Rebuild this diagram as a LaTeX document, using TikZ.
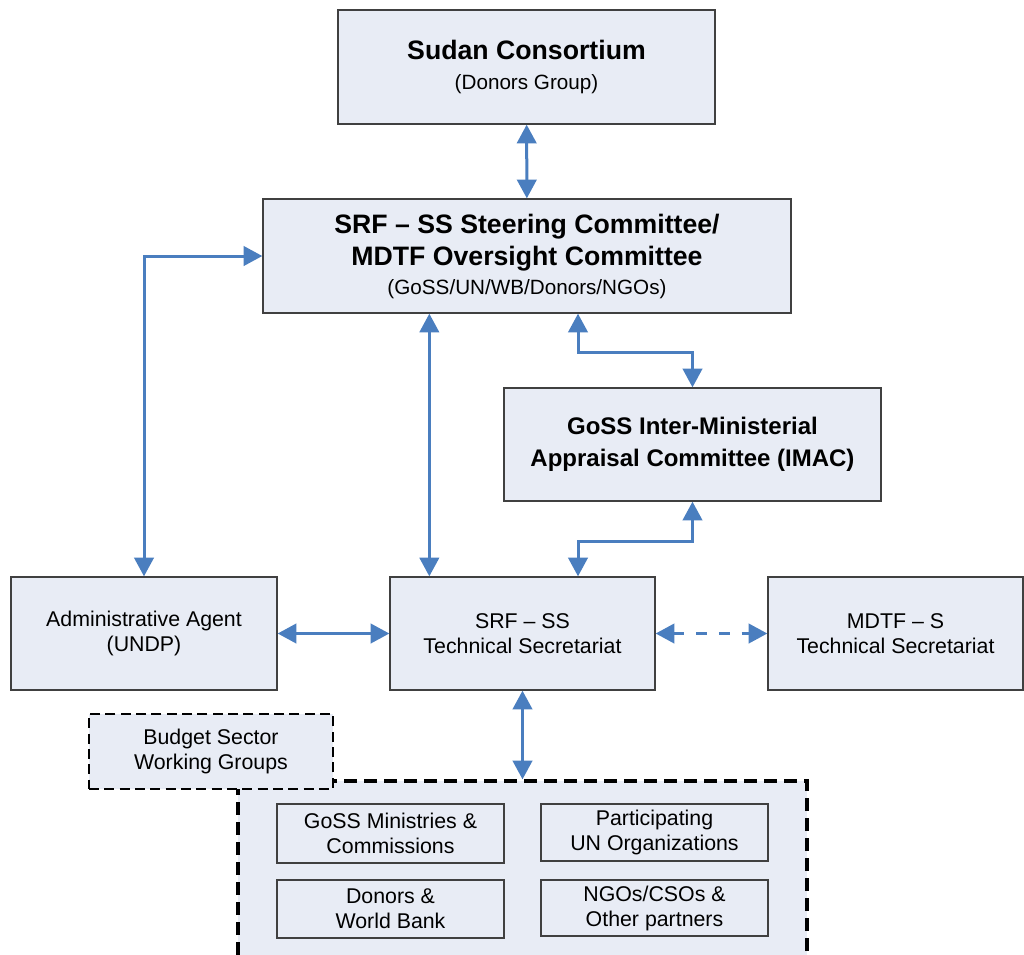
\documentclass[tikz,border=0pt]{standalone}
\usepackage{fontspec}
\setmainfont{Liberation Sans}
\usetikzlibrary{arrows.meta}

\definecolor{boxfill}{HTML}{E8ECF5}
\definecolor{boxline}{HTML}{404040}
\definecolor{linkblue}{HTML}{4A7EBF}

\newcommand{\subline}{\fontsize{15.5}{20}\selectfont\mdseries}

\begin{document}
\begin{tikzpicture}[x=0.75pt, y=-0.75pt,
    box/.style={draw=boxline, line width=1pt, fill=boxfill, align=center,
      inner sep=0pt, font=\fontsize{16}{18.75}\selectfont},
    titlebox/.style={box, font=\fontsize{20}{24}\selectfont\bfseries},
    dashbox/.style={box, draw=black, line width=1.8pt, dash pattern=on 7.5pt off 4pt},
    link/.style={draw=linkblue, line width=2.25pt,
      {Triangle[length=14pt,width=14.5pt]}-{Triangle[length=14pt,width=14.5pt]}},
    dashlink/.style={link, dash pattern=on 8pt off 9pt}]
  \useasboundingbox (0,0) rectangle (1024,954);

  % upper part
  \node[titlebox, minimum width=282.75pt, minimum height=85.5pt] (sudan) at (526.5, 67)
    {Sudan Consortium\\[-1.5pt]{\subline (Donors Group)}};
  \node[titlebox, minimum width=396pt, minimum height=85.5pt] (steer) at (527, 256)
    {SRF – SS Steering Committee/\\MDTF Oversight Committee\\[-2.25pt]{\subline (GoSS/UN/WB/Donors/NGOs)}};
  \node[titlebox, minimum width=282.75pt, minimum height=84.75pt,
    font=\fontsize{18}{24}\selectfont\bfseries] (imac) at (692.5, 444.5)
    {GoSS Inter-Ministerial\\Appraisal Committee (IMAC)};

  % middle row
  \node[box, minimum width=199.5pt, minimum height=84.75pt] (admin) at (144, 633.5)
    {Administrative Agent\\(UNDP)};
  \node[box, minimum width=198.75pt, minimum height=84.75pt] (ts) at (522.5, 633.5)
    {SRF – SS\\Technical Secretariat};
  \node[box, minimum width=191.25pt, minimum height=84.75pt] (mdtf) at (895.5, 633.5)
    {MDTF – S\\Technical Secretariat};

  % lower group
  \node[dashbox, line width=2.5pt, dash pattern=on 10pt off 5pt,
    minimum width=426.75pt, minimum height=135.75pt] (group) at (522.5, 871.5) {};
  \node[dashbox, minimum width=183pt, minimum height=56.25pt] (budget) at (211, 751.5)
    {Budget Sector\\Working Groups};
  \node[box, minimum width=170.25pt, minimum height=44.25pt] (goss) at (390.5, 833.5)
    {GoSS Ministries \&\\Commissions};
  \node[box, minimum width=170.25pt, minimum height=42.75pt] (unorg) at (654.5, 832.5)
    {Participating\\UN Organizations};
  \node[box, minimum width=170.25pt, minimum height=43.5pt] (donors) at (390.5, 909)
    {Donors \&\\World Bank};
  \node[box, minimum width=170.25pt, minimum height=42pt] (ngos) at (654.5, 908)
    {NGOs/CSOs \&\\Other partners};

  % connectors
  \coordinate (jog) at (578, 0);
  \draw[link] (sudan) -- (steer);
  \draw[link] (steer.west) -| (admin.north);
  \draw[link] ([xshift=30pt]steer.south -| ts.west) -- ([xshift=30pt]ts.north west);
  \draw[link] (steer.south -| jog) -- ++(0, 39) -| (imac.north);
  \draw[link] (imac.south) -- ++(0, 40) -| (ts.north -| jog);
  \draw[link] (admin.east) -- (ts.west);
  \draw[dashlink] (ts.east) -- (mdtf.west);
  \draw[link] (ts.south) -- (group.north);
\end{tikzpicture}
\end{document}
